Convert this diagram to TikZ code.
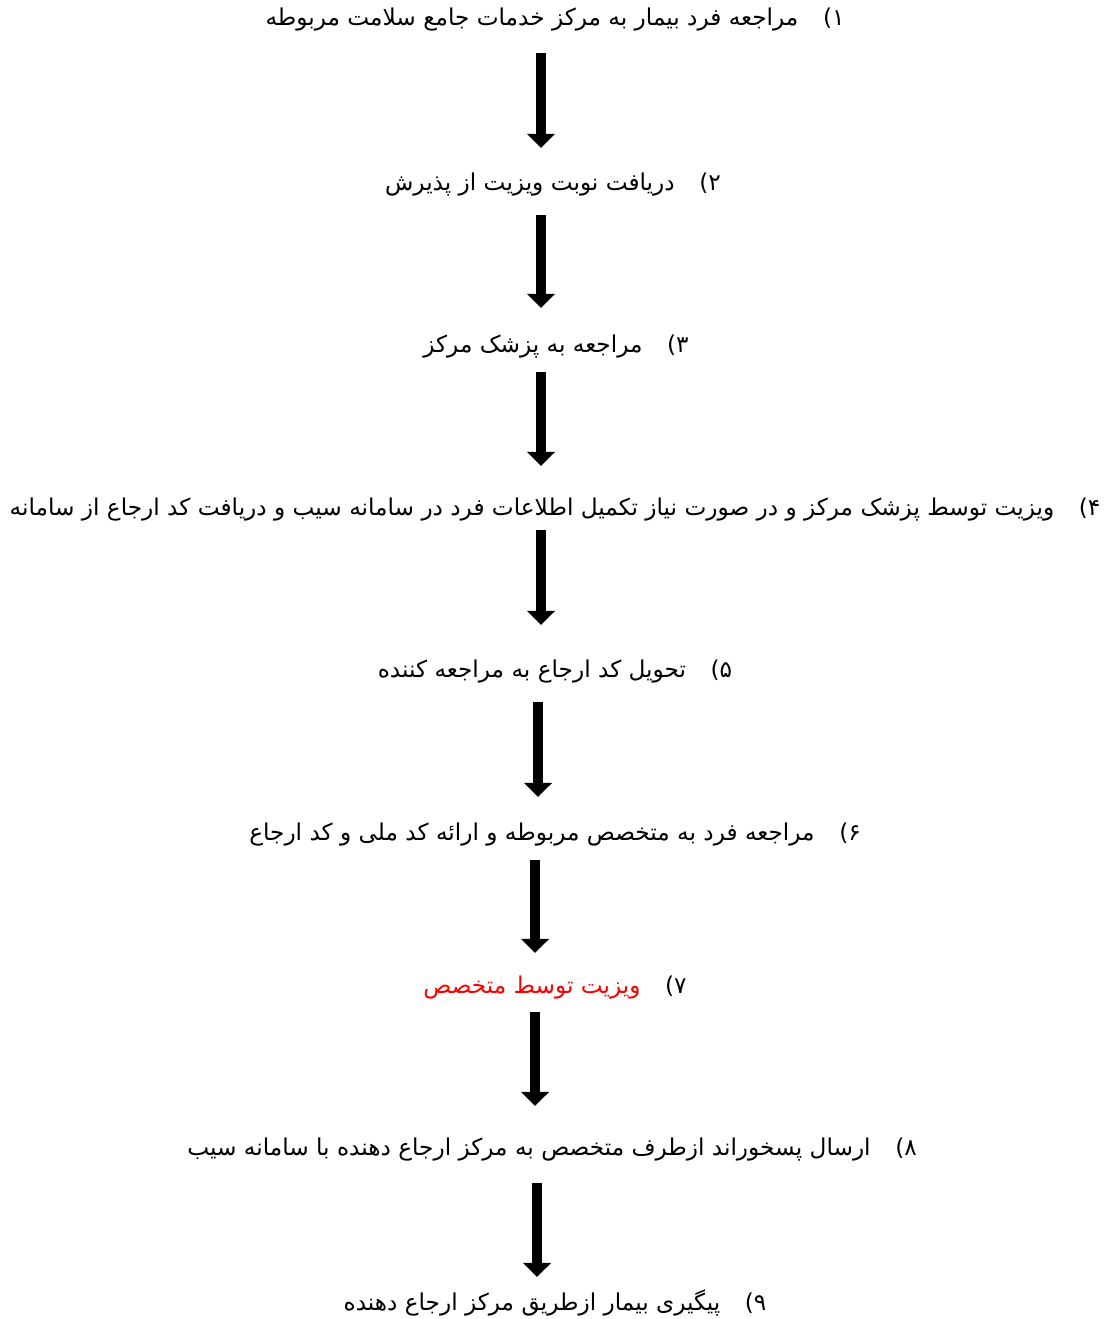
\documentclass[tikz,border=0pt]{standalone}
\usepackage{fontspec}
\usepackage{xcolor}
\usepackage{tikz}
\usetikzlibrary{arrows.meta,positioning}
\TeXXeTstate=1
\newfontfamily\arabicfont[Script=Arabic]{DejaVu Sans}
\definecolor{stepred}{RGB}{255,0,0}

\tikzset{
  steptext/.style={inner sep=0pt, font=\arabicfont\fontsize{13.2}{16}\selectfont},
  downarrow/.style={line width=6pt, -{Triangle[width=15.5pt,length=8pt]}}
}

\begin{document}
\begin{tikzpicture}[x=0.02cm, y=-0.02cm]
  \useasboundingbox (0,0) rectangle (1105,1319);

  % steps
  \node[steptext] (s1) at (555,20) {\beginR مراجعه فرد بیمار به مرکز خدمات جامع سلامت مربوطه\endR\hspace{14pt}۱)};
  \node[steptext] (s2) at (553,185) {\beginR دریافت نوبت ویزیت از پذیرش\endR\hspace{14pt}۲)};
  \node[steptext] (s3) at (556,347) {\beginR مراجعه به پزشک مرکز\endR\hspace{14pt}۳)};
  \node[steptext] (s4) at (555,510) {\beginR ویزیت توسط پزشک مرکز و در صورت نیاز تکمیل اطلاعات فرد در سامانه سیب و دریافت کد ارجاع از سامانه\endR\hspace{14pt}۴)};
  \node[steptext] (s5) at (555,672) {\beginR تحویل کد ارجاع به مراجعه کننده\endR\hspace{14pt}۵)};
  \node[steptext] (s6) at (555,835) {\beginR مراجعه فرد به متخصص مربوطه و ارائه کد ملی و کد ارجاع\endR\hspace{14pt}۶)};
  \node[steptext] (s7) at (555,988) {\textcolor{stepred}{\beginR ویزیت توسط متخصص\endR}\hspace{14pt}۷)};
  \node[steptext] (s8) at (552,1150) {\beginR ارسال پسخوراند ازطرف متخصص به مرکز ارجاع دهنده با سامانه سیب\endR\hspace{14pt}۸)};
  \node[steptext] (s9) at (555,1303) {\beginR پیگیری بیمار ازطریق مرکز ارجاع دهنده\endR\hspace{14pt}۹)};

  % arrows between steps
  \foreach \i/\x/\ya/\yb in {1/541/53/148, 2/541/215/308, 3/541/372/466, 4/541/530/625,
                             5/538/702/797, 6/535/860/953, 7/535/1012/1106, 8/537/1183/1277}{
    \coordinate (t\i) at (\x,\ya);
    \coordinate (h\i) at (\x,\yb);
    \draw[downarrow] (t\i) -- (h\i);
  }
\end{tikzpicture}
\end{document}
